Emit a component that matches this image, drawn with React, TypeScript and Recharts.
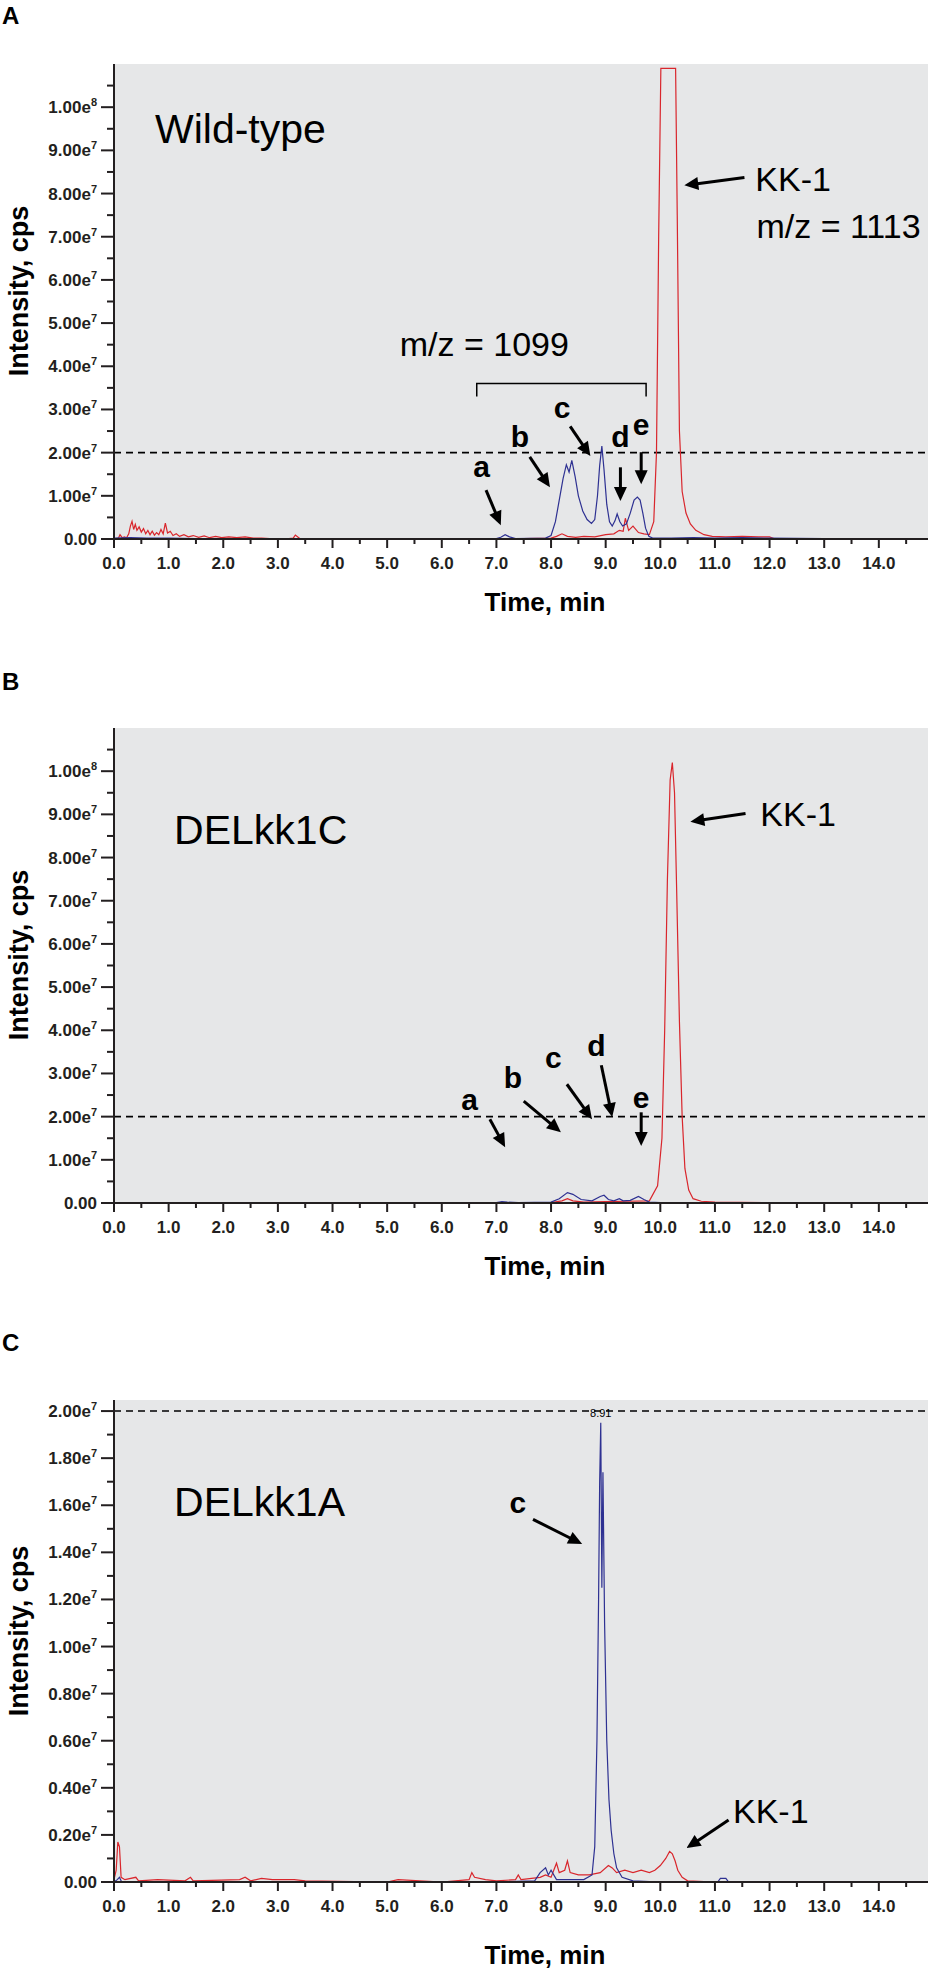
import React from 'react'
import { LineChart, Line, XAxis, YAxis, CartesianGrid, ReferenceLine, ReferenceDot } from 'recharts'

// [time (min), intensity (x1e7 cps)]
const wtRed: [number, number][] = [
  [0, 0], [0.04, 0.01], [0.08, 0.02], [0.11, 0.1], [0.15, 0.03], [0.19, 0.05], [0.23, 0.03], [0.27, 0.12],
  [0.3, 0.3], [0.33, 0.41], [0.36, 0.22], [0.39, 0.34], [0.42, 0.2], [0.46, 0.28], [0.5, 0.16], [0.54, 0.24],
  [0.58, 0.12], [0.62, 0.2], [0.66, 0.1], [0.7, 0.18], [0.74, 0.09], [0.78, 0.15], [0.82, 0.1], [0.86, 0.22],
  [0.9, 0.12], [0.94, 0.37], [0.98, 0.14], [1.03, 0.18], [1.08, 0.08], [1.14, 0.12], [1.2, 0.06], [1.28, 0.1],
  [1.36, 0.05], [1.45, 0.08], [1.55, 0.04], [1.65, 0.07], [1.75, 0.03], [1.86, 0.06], [1.97, 0.03], [2.1, 0.05],
  [2.25, 0.03], [2.4, 0.05], [2.55, 0.02], [2.7, 0.02], [2.85, 0.01], [3.0, 0.01], [3.2, 0.01], [3.28, 0.02],
  [3.32, 0.09], [3.4, 0.01], [4.0, 0.005], [5.0, 0.005], [6.0, 0.005], [7.0, 0.01], [7.5, 0.01], [8.0, 0.02],
  [8.1, 0.06], [8.2, 0.12], [8.3, 0.06], [8.45, 0.04], [8.6, 0.06], [8.8, 0.05], [9.0, 0.1], [9.15, 0.12],
  [9.25, 0.2], [9.32, 0.18], [9.36, 0.48], [9.42, 0.2], [9.5, 0.3], [9.6, 0.15], [9.7, 0.12], [9.8, 0.1],
  [9.88, 0.4], [9.93, 2.0], [9.97, 7.0], [10.01, 10.9], [10.04, 10.9], [10.28, 10.9], [10.31, 7.5], [10.35, 2.5],
  [10.4, 1.1], [10.47, 0.6], [10.55, 0.35], [10.65, 0.2], [10.8, 0.1], [10.95, 0.06], [11.2, 0.05], [11.5, 0.06],
  [11.8, 0.05], [12.0, 0.05], [12.1, 0], [13.0, 0], [14.0, 0], [14.9, 0],
]

const wtBlue: [number, number][] = [
  [0, 0.02], [0.3, 0.03], [0.6, 0.02], [1, 0.02], [1.5, 0.01], [2, 0.01], [3, 0.01], [4, 0.01], [5, 0.01],
  [6, 0.01], [7, 0.01], [7.08, 0.04], [7.16, 0.1], [7.24, 0.05], [7.35, 0.01], [7.9, 0.02], [8.0, 0.08],
  [8.08, 0.4], [8.15, 0.9], [8.22, 1.4], [8.28, 1.72], [8.33, 1.55], [8.38, 1.82], [8.44, 1.45], [8.5, 1.0],
  [8.58, 0.65], [8.66, 0.45], [8.74, 0.36], [8.8, 0.45], [8.85, 1.0], [8.89, 1.7], [8.93, 2.15], [8.97, 1.6],
  [9.02, 0.8], [9.07, 0.4], [9.12, 0.3], [9.17, 0.42], [9.21, 0.58], [9.26, 0.4], [9.31, 0.3], [9.38, 0.35],
  [9.45, 0.6], [9.52, 0.9], [9.58, 0.97], [9.63, 0.9], [9.68, 0.6], [9.73, 0.25], [9.79, 0.06], [9.86, 0.02],
  [10.2, 0.02], [10.6, 0.03], [11, 0.02], [11.5, 0.03], [12, 0.02], [13, 0.01], [14.9, 0.01],
]

const delCRed: [number, number][] = [
  [0, 0], [0.5, 0.01], [1, 0.01], [2, 0.01], [3, 0.005], [5, 0.005], [7, 0.005], [8.0, 0.01], [8.2, 0.05],
  [8.3, 0.1], [8.4, 0.05], [8.6, 0.02], [9.0, 0.03], [9.4, 0.04], [9.8, 0.05], [9.95, 0.4], [10.03, 1.5],
  [10.08, 4.0], [10.13, 7.5], [10.18, 9.8], [10.22, 10.2], [10.26, 9.5], [10.3, 7.2], [10.35, 4.2], [10.4, 2.0],
  [10.45, 0.8], [10.52, 0.3], [10.6, 0.1], [10.75, 0.04], [11, 0.02], [12, 0.01], [14.9, 0],
]

const delCBlue: [number, number][] = [
  [0, 0.01], [2, 0.01], [5, 0.01], [7, 0.01], [7.1, 0.03], [7.2, 0.02], [7.4, 0.01], [8.0, 0.02], [8.15, 0.1],
  [8.3, 0.24], [8.4, 0.2], [8.55, 0.08], [8.75, 0.05], [8.9, 0.15], [8.97, 0.18], [9.05, 0.08], [9.15, 0.05],
  [9.25, 0.1], [9.32, 0.05], [9.45, 0.06], [9.6, 0.15], [9.7, 0.08], [9.8, 0.02], [10, 0.01], [12, 0.01], [14.9, 0.01],
]

const delARed: [number, number][] = [
  [0, 0.01], [0.04, 0.05], [0.07, 0.17], [0.1, 0.15], [0.13, 0.02], [0.2, 0.01], [0.4, 0.02], [0.45, 0.005],
  [0.8, 0.01], [1.3, 0.005], [1.4, 0.02], [1.45, 0.005], [2.3, 0.01], [2.4, 0.02], [2.5, 0.005], [2.7, 0.015],
  [2.9, 0.01], [3.3, 0.01], [3.5, 0.005], [5.0, 0], [5.2, 0.01], [6.0, 0], [6.5, 0.01], [6.55, 0.04], [6.6, 0.02],
  [6.8, 0.01], [7.0, 0.005], [7.35, 0.01], [7.4, 0.03], [7.45, 0.01], [7.8, 0.02], [7.9, 0.03], [8.0, 0.02],
  [8.1, 0.08], [8.15, 0.04], [8.25, 0.05], [8.3, 0.09], [8.35, 0.04], [8.5, 0.03], [8.7, 0.03], [8.9, 0.04],
  [9.05, 0.07], [9.12, 0.06], [9.2, 0.04], [9.35, 0.05], [9.5, 0.04], [9.65, 0.05], [9.8, 0.04], [9.9, 0.05],
  [10.0, 0.07], [10.1, 0.1], [10.17, 0.13], [10.22, 0.12], [10.27, 0.09], [10.32, 0.05], [10.4, 0.02],
  [10.5, 0.005], [11, 0], [14.9, 0],
]

const delABlue: [number, number][] = [
  [0, 0], [0.06, 0.01], [0.1, 0.02], [0.14, 0], [1, 0], [3, 0], [5, 0], [7, 0], [7.7, 0.005], [7.8, 0.04],
  [7.9, 0.06], [7.95, 0.03], [8.0, 0.05], [8.1, 0.01], [8.3, 0.01], [8.6, 0.01], [8.75, 0.03], [8.8, 0.15],
  [8.84, 0.6], [8.87, 1.2], [8.89, 1.7], [8.91, 1.95], [8.93, 1.25], [8.95, 1.74], [8.98, 1.1], [9.02, 0.6],
  [9.06, 0.35], [9.1, 0.22], [9.15, 0.12], [9.2, 0.06], [9.3, 0.02], [9.5, 0.005], [10, 0], [11.05, 0],
  [11.1, 0.015], [11.2, 0.015], [11.25, 0], [14.9, 0],
]

const xMajor = [0, 1, 2, 3, 4, 5, 6, 7, 8, 9, 10, 11, 12, 13, 14]
const xMinor = [0.5, 1.5, 2.5, 3.5, 4.5, 5.5, 6.5, 7.5, 8.5, 9.5, 10.5, 11.5, 12.5, 13.5, 14.5]
const yMajorAB = [0, 1, 2, 3, 4, 5, 6, 7, 8, 9, 10]
const yMinorAB = [0.5, 1.5, 2.5, 3.5, 4.5, 5.5, 6.5, 7.5, 8.5, 9.5, 10.5]
const yMajorC = [0, 0.2, 0.4, 0.6, 0.8, 1.0, 1.2, 1.4, 1.6, 1.8, 2.0]
const yMinorC = [0.1, 0.3, 0.5, 0.7, 0.9, 1.1, 1.3, 1.5, 1.7, 1.9]

const FONT = '"Liberation Sans", Arial, sans-serif'
const RED = '#d9262c'
const BLUE = '#2e3192'
const BG = '#e6e7e8'
const INK = '#231f20'

const pts = (pairs: [number, number][]) => pairs.map(([t, v]) => ({ t, v }))
const isMajor = (v: number, majors: number[]) => majors.some((m) => Math.abs(m - v) < 1e-6)

function expLabel(v: number, x: number, y: number, big: boolean) {
  if (v === 0) {
    return <text x={x} y={y} textAnchor="end" fontFamily={FONT} fontWeight="bold" fontSize={17} fill={INK}>0.00</text>
  }
  const mant = big && v >= 10 ? (v / 10).toFixed(2) : v.toFixed(2)
  const exp = big && v >= 10 ? '8' : '7'
  return (
    <text x={x} y={y} textAnchor="end" fontFamily={FONT} fontWeight="bold" fontSize={17} fill={INK}>
      <tspan>{mant}e</tspan>
      <tspan dy={-7} fontSize={11}>{exp}</tspan>
    </text>
  )
}

const yTick = (majors: number[], big: boolean) => (props: any) => {
  const { x, y, payload } = props
  const major = isMajor(payload.value, majors)
  return (
    <g>
      <line x1={x - (major ? 13 : 7)} x2={x} y1={y} y2={y} stroke={INK} strokeWidth={2} />
      {major && expLabel(payload.value, x - 17, y + 6, big)}
    </g>
  )
}

const xTick = (props: any) => {
  const { x, y, payload } = props
  const major = isMajor(payload.value, xMajor)
  return (
    <g>
      <line x1={x} x2={x} y1={y} y2={y + (major ? 9 : 5)} stroke={INK} strokeWidth={2} />
      {major && (
        <text x={x} y={y + 30} textAnchor="middle" fontFamily={FONT} fontWeight="bold" fontSize={17} fill={INK}>
          {payload.value.toFixed(1)}
        </text>
      )}
    </g>
  )
}

function ArrowShape(props: any) {
  const { x1, y1, x2, y2 } = props
  const dx = x2 - x1
  const dy = y2 - y1
  const len = Math.hypot(dx, dy) || 1
  const ux = dx / len
  const uy = dy / len
  const head = 14
  const half = 6.5
  const bx = x2 - ux * head
  const by = y2 - uy * head
  return (
    <g>
      <line x1={x1} y1={y1} x2={bx + ux} y2={by + uy} stroke="#000" strokeWidth={3} />
      <polygon points={`${x2},${y2} ${bx - uy * half},${by + ux * half} ${bx + uy * half},${by - ux * half}`} fill="#000" />
    </g>
  )
}

function BracketShape(props: any) {
  const { x1, y1, x2 } = props
  return <path d={`M${x1},${y1 + 13} V${y1} H${x2} V${y1 + 13}`} fill="none" stroke="#000" strokeWidth={1.5} />
}

const arrow = (key: string, from: [number, number], to: [number, number]) => (
  <ReferenceLine
    key={key}
    segment={[{ x: from[0], y: from[1] }, { x: to[0], y: to[1] }]}
    ifOverflow="visible"
    shape={ArrowShape}
  />
)

const note = (key: string, x: number, y: number, text: string, size: number, bold = false, anchor = 'start') => (
  <ReferenceDot
    key={key}
    x={x}
    y={y}
    r={0}
    ifOverflow="visible"
    shape={(p: any) => (
      <text x={p.cx} y={p.cy} textAnchor={anchor} fontFamily={FONT} fontSize={size} fontWeight={bold ? 'bold' : 'normal'} fill="#000">
        {text}
      </text>
    )}
  />
)

interface PanelProps {
  top: number
  height: number
  marginTop: number
  marginBottom: number
  letter: string
  letterY: number
  yLabelY: number
  xLabelY: number
  yMax: number
  yMajor: number[]
  yMinor: number[]
  big: boolean
  red: [number, number][]
  blue: [number, number][]
  children?: React.ReactNode
}

function Panel(p: PanelProps) {
  return (
    <div style={{ position: 'absolute', left: 0, top: p.top, width: 933, height: p.height }}>
      <LineChart width={933} height={p.height} margin={{ top: p.marginTop, right: 5, bottom: p.marginBottom, left: 14 }}>
        <CartesianGrid fill={BG} horizontal={false} vertical={false} />
        <XAxis
          type="number"
          dataKey="t"
          domain={[0, 14.9]}
          ticks={[...xMajor, ...xMinor]}
          interval={0}
          allowDataOverflow
          tickLine={false}
          tickSize={0}
          tickMargin={0}
          axisLine={{ stroke: INK, strokeWidth: 2 }}
          tick={xTick}
          height={60}
        />
        <YAxis
          type="number"
          domain={[0, p.yMax]}
          ticks={[...p.yMajor, ...p.yMinor]}
          interval={0}
          allowDataOverflow
          tickLine={false}
          tickSize={0}
          tickMargin={0}
          axisLine={{ stroke: INK, strokeWidth: 2 }}
          tick={yTick(p.yMajor, p.big)}
          width={100}
        />
        <ReferenceLine y={2} stroke="#000" strokeDasharray="7 5" strokeWidth={1.6} />
        <Line data={pts(p.red)} dataKey="v" type="linear" stroke={RED} strokeWidth={1.2} dot={false} isAnimationActive={false} />
        <Line data={pts(p.blue)} dataKey="v" type="linear" stroke={BLUE} strokeWidth={1.2} dot={false} isAnimationActive={false} />
        {p.children}
      </LineChart>
      <svg width={933} height={p.height} style={{ position: 'absolute', left: 0, top: 0, pointerEvents: 'none' }}>
        <text x={2} y={p.letterY} fontFamily={FONT} fontWeight="bold" fontSize={24} fill="#000">{p.letter}</text>
        <text
          transform={`translate(28, ${p.yLabelY}) rotate(-90)`}
          textAnchor="middle"
          fontFamily={FONT}
          fontWeight="bold"
          fontSize={27}
          fill="#000"
        >
          Intensity, cps
        </text>
        <text x={545} y={p.xLabelY} textAnchor="middle" fontFamily={FONT} fontWeight="bold" fontSize={26} fill="#000">
          Time, min
        </text>
      </svg>
    </div>
  )
}

export default function App() {
  return (
    <div style={{ position: 'absolute', left: 0, top: 0, width: 933, height: 1972, background: '#fff' }}>
      <Panel top={0} height={664} marginTop={64} marginBottom={65} letter="A" letterY={24} yLabelY={291} xLabelY={611}
        yMax={11} yMajor={yMajorAB} yMinor={yMinorAB} big red={wtRed} blue={wtBlue}>
        {note('wt', 0.75, 9.16, 'Wild-type', 41)}
        {note('kk', 11.74, 8.07, 'KK-1', 34)}
        {note('mz13', 11.76, 6.98, 'm/z = 1113', 34)}
        {arrow('kka', [11.54, 8.37], [10.44, 8.19])}
        {note('mz99', 5.23, 4.23, 'm/z = 1099', 34)}
        <ReferenceLine key="br" segment={[{ x: 6.64, y: 3.6 }, { x: 9.74, y: 3.6 }]} ifOverflow="visible" shape={BracketShape} />
        {note('a', 6.73, 1.43, 'a', 30, true, 'middle')}
        {arrow('aa', [6.81, 1.13], [7.08, 0.32])}
        {note('b', 7.43, 2.13, 'b', 30, true, 'middle')}
        {arrow('ba', [7.61, 1.9], [7.98, 1.2])}
        {note('c', 8.2, 2.8, 'c', 30, true, 'middle')}
        {arrow('ca', [8.35, 2.61], [8.72, 1.92])}
        {note('d', 9.27, 2.13, 'd', 30, true, 'middle')}
        {arrow('da', [9.27, 1.66], [9.27, 0.88])}
        {note('e', 9.65, 2.4, 'e', 30, true, 'middle')}
        {arrow('ea', [9.65, 2.01], [9.65, 1.27])}
      </Panel>
      <Panel top={664} height={664} marginTop={64} marginBottom={65} letter="B" letterY={26} yLabelY={291} xLabelY={611}
        yMax={11} yMajor={yMajorAB} yMinor={yMinorAB} big red={delCRed} blue={delCBlue}>
        {note('del', 1.1, 8.32, 'DELkk1C', 41)}
        {note('kk', 11.83, 8.72, 'KK-1', 34)}
        {arrow('kka', [11.56, 9.02], [10.55, 8.83])}
        {note('a', 6.51, 2.15, 'a', 30, true, 'middle')}
        {arrow('aa', [6.88, 1.94], [7.16, 1.29])}
        {note('b', 7.3, 2.66, 'b', 30, true, 'middle')}
        {arrow('ba', [7.5, 2.36], [8.18, 1.64])}
        {note('c', 8.04, 3.12, 'c', 30, true, 'middle')}
        {arrow('ca', [8.29, 2.75], [8.75, 1.94])}
        {note('d', 8.83, 3.4, 'd', 30, true, 'middle')}
        {arrow('da', [8.92, 3.19], [9.12, 1.99])}
        {note('e', 9.65, 2.2, 'e', 30, true, 'middle')}
        {arrow('ea', [9.65, 2.1], [9.65, 1.32])}
      </Panel>
      <Panel top={1328} height={644} marginTop={72} marginBottom={30} letter="C" letterY={23} yLabelY={303} xLabelY={636}
        yMax={2.047} yMajor={yMajorC} yMinor={yMinorC} big={false} red={delARed} blue={delABlue}>
        {note('del', 1.1, 1.554, 'DELkk1A', 41)}
        {note('c', 7.39, 1.567, 'c', 30, true, 'middle')}
        {arrow('ca', [7.67, 1.54], [8.57, 1.435])}
        {note('kk', 11.33, 0.25, 'KK-1', 34)}
        {arrow('kka', [11.25, 0.263], [10.48, 0.144])}
        {note('rt', 8.91, 1.975, '8.91', 11, false, 'middle')}
      </Panel>
    </div>
  )
}
